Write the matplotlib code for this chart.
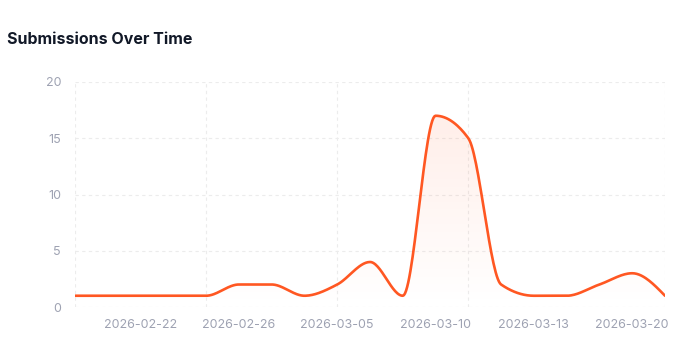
import numpy as np
import matplotlib.pyplot as plt
from matplotlib.colors import to_rgb

# submissions per day (only days that had data)
dates = ['2026-02-20', '2026-02-21', '2026-02-22', '2026-02-24', '2026-02-25',
         '2026-02-26', '2026-02-27', '2026-03-02', '2026-03-05', '2026-03-06',
         '2026-03-09', '2026-03-10', '2026-03-11', '2026-03-12', '2026-03-13',
         '2026-03-16', '2026-03-18', '2026-03-20', '2026-03-21']
counts = [1, 1, 1, 1, 1, 2, 2, 1, 2, 4, 1, 17, 15, 2, 1, 1, 2, 3, 1]
label_every = 3
label_start = 2
y_ticks = [0, 5, 10, 15, 20]

LINE = '#ff5722'
GRID = '#ececec'
TICK = '#9ea2b2'


def monotone_curve(x, y, n=30):
    # same as d3 curveMonotoneX (what recharts uses for type="monotone")
    x = np.asarray(x, float)
    y = np.asarray(y, float)
    h = np.diff(x)
    s = np.diff(y) / h
    t = np.zeros_like(y)
    for i in range(1, len(x) - 1):
        p = (s[i - 1] * h[i] + s[i] * h[i - 1]) / (h[i - 1] + h[i])
        t[i] = (np.sign(s[i - 1]) + np.sign(s[i])) * min(abs(s[i - 1]), abs(s[i]), 0.5 * abs(p))
    t[0] = (3 * s[0] - t[1]) / 2
    t[-1] = (3 * s[-1] - t[-2]) / 2
    xs, ys = [], []
    for i in range(len(x) - 1):
        u = np.linspace(0, 1, n, endpoint=(i == len(x) - 2))
        h00 = 2 * u**3 - 3 * u**2 + 1
        h10 = u**3 - 2 * u**2 + u
        h01 = -2 * u**3 + 3 * u**2
        h11 = u**3 - u**2
        xs.append(x[i] + u * h[i])
        ys.append(h00 * y[i] + h10 * h[i] * t[i] + h01 * y[i + 1] + h11 * h[i] * t[i + 1])
    return np.concatenate(xs), np.concatenate(ys)


plt.rcParams['font.family'] = ['Inter', 'DejaVu Sans']

fig = plt.figure(figsize=(6.95, 3.56), dpi=100)
ax = fig.add_axes([75 / 695, 49 / 356, 590 / 695, 225 / 356])

idx = np.arange(len(counts))
cx, cy = monotone_curve(idx, counts)

# gradient area under the line
fill = ax.fill_between(cx, cy, 0, color='none', lw=0)
rgb = to_rgb(LINE)
grad = np.zeros((256, 1, 4))
grad[:, 0, :3] = rgb
grad[:, 0, 3] = np.linspace(0.10, 0.0, 256)
img = ax.imshow(grad, aspect='auto', extent=[0, len(counts) - 1, 0, max(counts)],
                origin='upper', zorder=1)
img.set_clip_path(fill.get_paths()[0], transform=ax.transData)

ax.plot(cx, cy, color=LINE, lw=1.9, solid_capstyle='round', zorder=3)

# grid
for yv in y_ticks:
    ax.axhline(yv, color=GRID, lw=0.8, ls=(0, (3, 3)), zorder=0)
for xv in [0, 4, 8, 12, len(counts) - 1]:
    ax.axvline(xv, color=GRID, lw=0.8, ls=(0, (3, 3)), zorder=0)

ax.set_xlim(0, len(counts) - 1)
ax.set_ylim(0, 20)
ax.set_yticks(y_ticks)
ax.set_yticklabels([str(v) for v in y_ticks])
tick_pos = idx[label_start::label_every]
ax.set_xticks(tick_pos)
ax.set_xticklabels([dates[i] for i in tick_pos])
ax.tick_params(length=0, colors=TICK, labelsize=9)
ax.tick_params(axis='y', pad=10)
ax.tick_params(axis='x', pad=9)
for sp in ax.spines.values():
    sp.set_visible(False)

fig.text(7 / 695, 1 - 39 / 356, 'Submissions Over Time', fontsize=11.5,
         fontweight='bold', color='#111827', va='center', ha='left')

fig.savefig('out.png', dpi=100)
